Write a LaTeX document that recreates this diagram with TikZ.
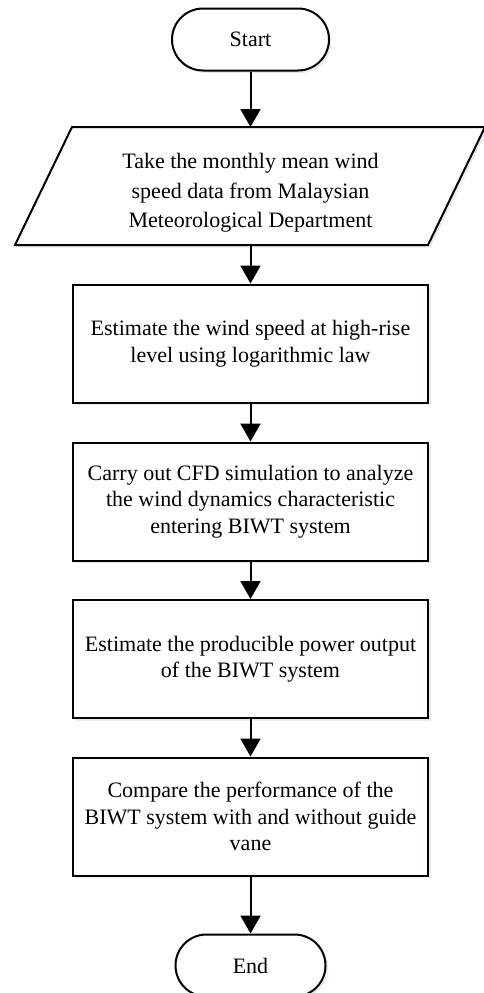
\documentclass[tikz,border=0pt]{standalone}
\usepackage{fontspec}
\setmainfont{Liberation Serif}
\usetikzlibrary{arrows.meta,shadows,shapes.misc}

\begin{document}
\begin{tikzpicture}[x=1pt,y=-1pt,
  line/.style={line width=2pt},
  flow/.style={line width=2pt,-{Triangle[length=18pt,width=20pt]}},
  glow/.style={drop shadow={shadow xshift=2.5pt,shadow yshift=-2.5pt,
               fill={rgb,255:red,228;green,236;blue,248},opacity=1}},
  txt/.style={font=\fontsize{22}{26.5}\selectfont,align=center},
  terminal/.style={rounded rectangle,draw,line width=2pt,fill=white,glow,
                   minimum width=157pt,minimum height=62pt,inner sep=0pt,txt},
  process/.style={rectangle,draw,line width=2pt,fill=white,glow,
                  minimum width=355pt,minimum height=118pt,inner sep=0pt,txt}
]
\useasboundingbox (0,0) rectangle (484,993);

% start / end terminals
\node[terminal] (start) at (250.5,39.5) {Start};

% input parallelogram
\coordinate (dataT) at (250.5,127);
\coordinate (dataB) at (250.5,245);
\draw[line,fill=white,glow] (72,127) -- (485,127) -- (428,245) -- (15,245) -- cycle;
\node[txt,font=\fontsize{22}{29.5}\selectfont] (data) at (250.5,193)
  {Take the monthly mean wind\\speed data from Malaysian\\Meteorological Department};

% process steps
\node[process] (s1) at (250.5,343.5)
  {Estimate the wind speed at high-rise\\level using logarithmic law};
\node[process] (s2) at (250.5,501.5)
  {Carry out CFD simulation to analyze\\the wind dynamics characteristic\\entering BIWT system};
\node[process] (s3) at (250.5,659)
  {Estimate the producible power output\\of the BIWT system};
\node[process] (s4) at (250.5,816.5)
  {Compare the performance of the\\BIWT system with and without guide\\vane};

\node[terminal,minimum width=150pt] (end) at (250.5,965.5) {End};

% connectors
\draw[flow] (start.south) -- (dataT);
\draw[flow] (dataB) -- (s1.north);
\draw[flow] (s1.south) -- (s2.north);
\draw[flow] (s2.south) -- (s3.north);
\draw[flow] (s3.south) -- (s4.north);
\draw[flow] (s4.south) -- (end.north);
\end{tikzpicture}
\end{document}
